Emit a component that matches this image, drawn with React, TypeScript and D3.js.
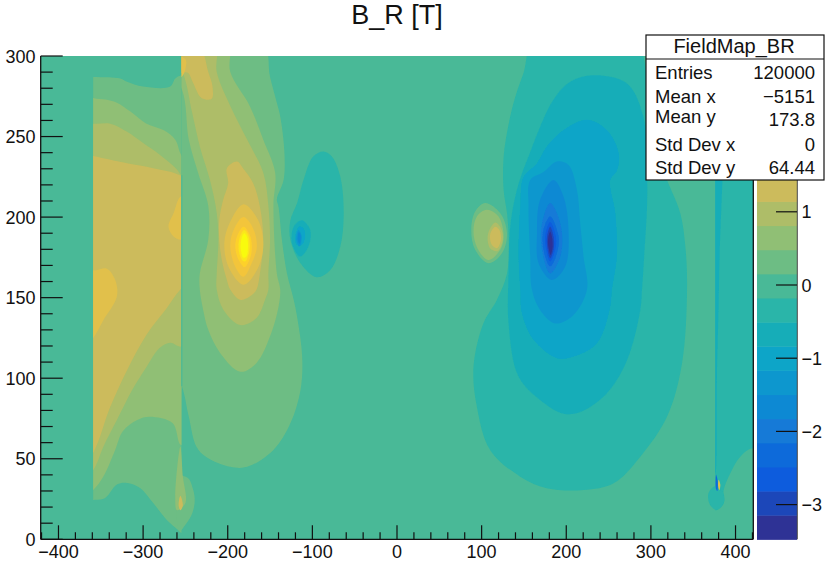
import React from "react";
import * as d3 from "d3";

type P = [number, number];

// ROOT kBird palette stops
const paletteStops = [0, 0.125, 0.25, 0.375, 0.5, 0.625, 0.75, 0.875, 1];
const paletteRed = [0.2082, 0.0592, 0.078, 0.0232, 0.1802, 0.5301, 0.8186, 0.9956, 0.9764];
const paletteGreen = [0.1664, 0.3599, 0.5041, 0.6419, 0.7178, 0.7492, 0.7328, 0.7862, 0.9832];
const paletteBlue = [0.5293, 0.8684, 0.8385, 0.7914, 0.6425, 0.4662, 0.3499, 0.1968, 0.0539];
const bandCount = 20;
const zMin = -3.475;
const zMax = 3.12;
const backgroundBand = 10;

const xTicksMajor = [-400, -300, -200, -100, 0, 100, 200, 300, 400];
const yTicksMajor = [0, 50, 100, 150, 200, 250, 300];
const zTicksMajor = [1, 0, -1, -2, -3];

const title = "B_R [T]";
const statsTitle = "FieldMap_BR";
const statsNames = ["Entries", "Mean x", "Mean y", "Std Dev x", "Std Dev y"];
const statsValues = ["120000", "\u22125151", "173.8", "0", "64.44"];

// Contour outlines in data units (x, y).
const blockB11: P[] = [[-400,287],[-359,287],[-327,286],[-319,284],[-300,281],[-268,281],[-262,286],[-255,288],[-230,290],[-230,0],[-255,4],[-259,6],[-272,12],[-288,22.5],[-304,32],[-319,35],[-331,34],[-345,25.6],[-359,24.4],[-400,24]];
const tailB11: P[] = [[-257,39],[-247,38],[-241,31],[-239,24],[-242,16],[-250,9],[-257,5]];
const blockB12: P[] = [[-385,280],[-359,274],[-345,273],[-331,271],[-315,265.5],[-296,258],[-276,254],[-262,248],[-255,238.6],[-235,225],[-235,70],[-255,58.6],[-265,72],[-292,76],[-307,74],[-324,67],[-333,55.5],[-347,39],[-359,30.6],[-385,20]];
const tailB12: P[] = [[-256,57.5],[-262,26.5],[-260,18],[-250,22.5],[-253,39]];
const tailB14: P[] = [[-256,27],[-258,21],[-256,18],[-253,21]];
const blockB13: P[] = [[-385,262],[-359,258],[-339,258],[-319,253],[-300,246],[-280,238.6],[-262,230.6],[-255,226],[-235,215],[-235,125],[-255,119.6],[-268,122],[-280,119],[-296,107],[-313,92.7],[-331,74],[-347,57.5],[-359,43],[-385,30]];
const blockB14: P[] = [[-385,240],[-359,238],[-347,236.6],[-319,233.5],[-288,230.4],[-255,225.6],[-235,215],[-235,165],[-256,155],[-272,143.6],[-296,127],[-319,105],[-339,82],[-359,53.6],[-385,35]];
const blockB15a: P[] = [[-385,175],[-359,167],[-343,168],[-333,161],[-331,150.7],[-347,136],[-359,125],[-385,110]];
const blockB15b: P[] = [[-255,213],[-264,202.4],[-270,194],[-264,188],[-255,186],[-240,190],[-240,210]];

const lobeB11: P[] = [[-280,320],[-160,310],[-150,287],[-142,271],[-138,262.6],[-133,240],[-134,223],[-142,211],[-140,206.5],[-136,186],[-130,165],[-122,148.6],[-118,138],[-112,113],[-114,92.7],[-126,72],[-146,55.5],[-177,45],[-197,45],[-225,51],[-237,57.5],[-246,76],[-254,95],[-280,130]];
const lobeB12: P[] = [[-280,320],[-200,310],[-197,290],[-174,269],[-158,248],[-144,227.5],[-146,207],[-142,165],[-138,155],[-140,144.4],[-150,126],[-166,109.5],[-185,104],[-209,115.7],[-223,130],[-229,142.4],[-233,155],[-233,165],[-223,186],[-223,207],[-235,227.5],[-246,248],[-254,279],[-280,300]];
const lobeB13: P[] = [[-275,310],[-215,310],[-213,290],[-197,269],[-177,248],[-158,227.5],[-152,207],[-150,186],[-152,165],[-152,155],[-156,148.6],[-166,137.4],[-185,133],[-205,142.4],[-213,155],[-213,165],[-211,186],[-213,202.6],[-221,223],[-233,243.8],[-242,264.7],[-253,289.6]];
const topB14: P[] = [[-270,310],[-233,305],[-223,290],[-218,281],[-219,273.4],[-231,274],[-241,283.4],[-247,289.6],[-254,289.6],[-270,285]];
const topB15: P[] = [[-262,300],[-250,298],[-250,292],[-255,287],[-262,290]];
const wallStrip: P[] = [[-254.9,226],[-253.6,226],[-253.6,95],[-254.9,95]];

const peakB14: P[] = [[-189,234.5],[-182,230.4],[-170,221],[-162,206.5],[-158,186],[-162,165],[-166,155],[-171.5,151.6],[-185,148.6],[-197,155],[-201,161],[-207,173.4],[-210,186],[-210,198],[-205.4,210.7],[-199.5,221],[-201,230.4]];
const peakB15: P[] = [[-181.4,208],[-164,198],[-158,181.7],[-165.6,167],[-181.4,158],[-199,169],[-204,184],[-198,196]];
const peakB16: P[] = [[-181.4,200],[-170,193],[-165.6,181.7],[-171.5,171.6],[-181.4,163],[-191,169],[-197,181.7],[-193,192]];
const peakB17: P[] = [[-181.4,194],[-174,189],[-171.5,181.7],[-173.5,174.7],[-180,169],[-187,173.4],[-191,181],[-189,188]];
const peakB18: P[] = [[-180.6,192],[-176,189],[-174,182.8],[-175.5,176.6],[-179.4,172.4],[-183,173.4],[-187,179.6],[-186,187]];
const peakB19: P[] = [[-180.6,190],[-177.4,188],[-176,181.7],[-178,175.5],[-181.4,174.7],[-184.5,179.6],[-184,186]];

const dipB9: P[] = [[-87,240.7],[-77,237.6],[-67,225],[-63,202.4],[-67,181.7],[-79,167],[-95,162.7],[-114,171.4],[-126,186],[-126,198],[-118,208.7],[-110.5,223],[-99,237.6]];
const dipB8: P[] = [[-112.4,198],[-102.6,192],[-104.6,181.7],[-114.4,175.5],[-124,183.8],[-122,194]];
const dipB7: P[] = [[-115.6,194],[-110.5,193],[-108.5,188],[-112.4,182.8],[-118.3,182.8],[-120.3,188]];
const dipB6: P[] = [[-116.4,192],[-112.4,188],[-115.2,181.7],[-119,186]];
const dipB5: P[] = [[-116,190.8],[-113.8,188.4],[-115,183.4],[-117.3,186]];

const bumpB11: P[] = [[104,208.7],[122,202.4],[130,190],[124,177.6],[108,171.4],[92.4,179.7],[87.7,192],[92.4,203.4]];
const bumpB12: P[] = [[106,204.5],[120,200.3],[126,188],[122,179.7],[108,173.4],[95,180.7],[90.4,191],[94.4,200.3]];
const bumpB13: P[] = [[116,196.6],[123,193],[125,186],[118.8,179],[110,180.7],[107.4,189]];
const bumpB14: P[] = [[116,194],[121,192],[122.8,186],[118,180.7],[112,182.8],[110,189]];

const wellB9: P[] = [[163,310],[149.5,289.4],[140,275],[132,258],[126,237.6],[126,217],[130,202.4],[132,186],[130,165],[118,148.6],[102,134],[90.4,107],[94.4,82.3],[110,55.5],[145.6,38.9],[177,31.7],[220.4,30.6],[256,34.8],[287.5,51.3],[319,76],[336.7,109],[342.7,155],[340.7,181.7],[334.7,202.4],[319,223],[300,250],[280,310]];
const wellB8: P[] = [[232,288],[204.7,284],[185,273],[169,256],[155.4,237.6],[147.6,227],[139.7,212.7],[133.8,194],[131.8,165],[131.8,134],[143.6,101],[169,86.5],[196.8,78],[216.5,79],[248,90.7],[271.7,111],[287.5,142.4],[289.5,155],[292,175.5],[295.4,206.5],[295.4,227],[291,262.5],[271.7,283]];
const wellB7: P[] = [[224.5,260.4],[196.8,254],[177,243.8],[165.4,233.5],[149.5,225],[145.6,206.5],[143.6,175.5],[145.6,155],[147.6,140.3],[161.3,123.8],[189,112.4],[208.6,113.4],[236.3,121.7],[252,144.4],[254,155],[259.8,175.5],[258,202.4],[252,223],[260,229],[262,239.7],[248,254]];
const wellB6: P[] = [[189,234.5],[173,228],[157.4,223],[155.4,206.5],[157.4,175.5],[159.4,155],[169,142.4],[187,134],[208.6,139.3],[224.5,155],[220.4,175.5],[216.5,196],[212.6,217],[202.7,232.4]];
const wellB5: P[] = [[185,223],[196.8,212.7],[202.7,192],[198.8,169.3],[183,161],[167.3,171.4],[165.4,190],[169,210.7]];
const wellB4: P[] = [[181,208.7],[189,202.4],[195,190],[193,175.5],[181,165],[171.3,179.7],[171.3,196]];
const wellB3: P[] = [[181,200.3],[191,188],[189,177.6],[181,169.3],[173,179.7],[173,192]];
const wellB2: P[] = [[181,197],[187.8,188],[187,179.7],[181,172.4],[175.5,181.7],[175.5,190]];
const wellB1: P[] = [[181,194],[185,188],[185,179.7],[181,174.5],[178,179.7],[177.3,188]];
const wellB0: P[] = [[181,191],[183.4,187],[183.8,180.7],[181.4,176.5],[179.5,179.7],[178.4,185.9]];

const stripB9: P[] = [[350,320],[440,320],[440,50],[420.6,56.5],[405.6,51.3],[393.8,41],[386,30.6],[386,22.4],[378,18.2],[376,18],[350,20]];
const stripBlobB9: P[] = [[376,33],[386,28],[386,22.4],[378,18.2],[370,21.3],[368,28.6]];
const stripB8: P[] = [[372,310],[380.5,310],[380.5,160],[378,100],[377.5,50],[376.3,40],[372,100]];
const stripDark: P[] = [[377,40],[379,36],[378.5,30],[377,31]];
const stripLight: P[] = [[380,37],[382,34],[381,30.5],[379.5,33]];

type Layer = { band: number; pts: P[]; clip?: "block" | "right" | "strip"; linear?: boolean };

const layers: Layer[] = [
  { band: 11, pts: blockB11, clip: "block" },
  { band: 11, pts: tailB11 },
  { band: 12, pts: blockB12, clip: "block" },
  { band: 12, pts: tailB12 },
  { band: 14, pts: tailB14 },
  { band: 13, pts: blockB13, clip: "block" },
  { band: 14, pts: blockB14, clip: "block" },
  { band: 15, pts: blockB15a, clip: "block" },
  { band: 15, pts: blockB15b, clip: "block" },
  { band: 11, pts: lobeB11, clip: "right" },
  { band: 12, pts: lobeB12, clip: "right" },
  { band: 13, pts: lobeB13, clip: "right" },
  { band: 14, pts: topB14, clip: "right" },
  { band: 15, pts: topB15, clip: "right" },
  { band: 10, pts: wallStrip, linear: true },
  { band: 14, pts: peakB14 },
  { band: 15, pts: peakB15 },
  { band: 16, pts: peakB16 },
  { band: 17, pts: peakB17 },
  { band: 18, pts: peakB18 },
  { band: 19, pts: peakB19 },
  { band: 9, pts: dipB9 },
  { band: 8, pts: dipB8 },
  { band: 7, pts: dipB7 },
  { band: 6, pts: dipB6 },
  { band: 5, pts: dipB5 },
  { band: 11, pts: bumpB11 },
  { band: 12, pts: bumpB12 },
  { band: 13, pts: bumpB13 },
  { band: 14, pts: bumpB14 },
  { band: 9, pts: wellB9 },
  { band: 8, pts: wellB8 },
  { band: 7, pts: wellB7 },
  { band: 6, pts: wellB6 },
  { band: 5, pts: wellB5 },
  { band: 4, pts: wellB4 },
  { band: 3, pts: wellB3 },
  { band: 2, pts: wellB2 },
  { band: 1, pts: wellB1 },
  { band: 0, pts: wellB0 },
  { band: 9, pts: stripB9, clip: "strip" },
  { band: 9, pts: stripBlobB9 },
  { band: 8, pts: stripB8, clip: "strip" },
  { band: 3, pts: stripDark },
  { band: 15, pts: stripLight },
];

const FONT = "'Liberation Sans', Arial, Helvetica, sans-serif";
const INK = "#111";

export default function App() {
  const x = d3.scaleLinear().domain([-421, 421]).range([40.7, 753.3]);
  const y = d3.scaleLinear().domain([0, 300]).range([539.3, 56]);
  const zv = d3.scaleLinear().domain([0, 1]).range([285, 211.8]);

  const channel = (arr: number[]) => d3.scaleLinear().domain(paletteStops).range(arr);
  const r = channel(paletteRed);
  const g = channel(paletteGreen);
  const b = channel(paletteBlue);
  const bandColor = (i: number) => {
    const t = (i + 0.4) / (bandCount - 1 + 0.4);
    return d3.rgb(r(t) * 255, g(t) * 255, b(t) * 255).formatHex();
  };

  const smooth = d3.line<P>().x((d) => x(d[0])).y((d) => y(d[1])).curve(d3.curveCatmullRomClosed.alpha(0.5));
  const straight = d3.line<P>().x((d) => x(d[0])).y((d) => y(d[1])).curve(d3.curveLinearClosed);

  const zStep = (zMax - zMin) / bandCount;
  const xMinor = d3.range(-420, 421, 20);
  const yMinor = d3.range(0, 301, 10);

  const statsNameY = [79, 103, 123, 151, 174];
  const statsValueY = [79, 103, 126, 151, 174];

  return (
    <svg width={828} height={562} style={{ position: "absolute", left: 0, top: 0, display: "block" }} fontFamily={FONT}>
      <defs>
        <clipPath id="plot">
          <rect x={x(-421)} y={y(300)} width={x(421) - x(-421)} height={y(0) - y(300)} />
        </clipPath>
        <clipPath id="block">
          <rect x={x(-359)} y={y(300)} width={x(-254.7) - x(-359)} height={y(0) - y(300)} />
        </clipPath>
        <clipPath id="right">
          <rect x={x(-254.7)} y={y(300)} width={x(100) - x(-254.7)} height={y(0) - y(300)} />
        </clipPath>
        <clipPath id="strip">
          <rect x={x(376)} y={y(300)} width={x(421) - x(376)} height={y(0) - y(300)} />
        </clipPath>
        <filter id="soft" x="-2%" y="-2%" width="104%" height="104%">
          <feGaussianBlur stdDeviation={0.6} />
        </filter>
      </defs>

      <text x={397} y={24} fontSize={27} textAnchor="middle" fill={INK}>{title}</text>

      <g clipPath="url(#plot)">
        <g filter="url(#soft)">
          <rect x={x(-421) - 3} y={y(300) - 3} width={x(421) - x(-421) + 6} height={y(0) - y(300) + 6} fill={bandColor(backgroundBand)} />
          {layers.map((l, i) => {
            const path = (l.linear ? straight : smooth)(l.pts) as string;
            const el = <path d={path} fill={bandColor(l.band)} />;
            return l.clip ? (
              <g key={i} clipPath={`url(#${l.clip})`}>{el}</g>
            ) : (
              <g key={i}>{el}</g>
            );
          })}
        </g>
      </g>

      {/* palette */}
      <g filter="url(#soft)">
        {d3.range(bandCount).map((i) => (
          <rect
            key={i}
            x={757}
            y={zv(zMin + (i + 1) * zStep)}
            width={40}
            height={zv(zMin + i * zStep) - zv(zMin + (i + 1) * zStep) + 0.5}
            fill={bandColor(i)}
          />
        ))}
      </g>
      <line x1={797.3} x2={797.3} y1={56} y2={539.3} stroke="#444" strokeWidth={1} />
      {zTicksMajor.map((t) => (
        <g key={t}>
          <line x1={776} x2={797} y1={zv(t)} y2={zv(t)} stroke={INK} strokeWidth={1.2} />
          <text x={801.5} y={zv(t) + 6.5} fontSize={18} fill={INK}>
            {t < 0 ? `\u2212${-t}` : t}
          </text>
        </g>
      ))}

      {/* frame and axes */}
      <line x1={x(-421)} x2={x(-421)} y1={y(300)} y2={y(0)} stroke={INK} strokeWidth={1.3} />
      <line x1={x(-421)} x2={x(421)} y1={y(0)} y2={y(0)} stroke={INK} strokeWidth={1.3} />
      <line x1={x(421)} x2={x(421)} y1={y(300)} y2={y(0)} stroke={INK} strokeWidth={1.3} />
      {xMinor.map((t) => (
        <line key={t} x1={x(t)} x2={x(t)} y1={y(0)} y2={y(0) - (t % 100 === 0 ? 14 : 7)} stroke={INK} strokeWidth={1.2} />
      ))}
      {yMinor.map((t) => (
        <line key={t} x1={x(-421)} x2={x(-421) + (t % 50 === 0 ? 22 : 12)} y1={y(t)} y2={y(t)} stroke={INK} strokeWidth={1.2} />
      ))}
      {xTicksMajor.map((t) => (
        <text key={t} x={x(t)} y={558} fontSize={18} textAnchor="middle" fill={INK}>
          {t < 0 ? `\u2212${-t}` : t}
        </text>
      ))}
      {yTicksMajor.map((t) => (
        <text key={t} x={35.5} y={y(t) + 6.5} fontSize={18} textAnchor="end" fill={INK}>
          {t}
        </text>
      ))}

      {/* stats box */}
      <rect x={646} y={35} width={178} height={145} fill="#fff" stroke={INK} strokeWidth={1.2} />
      <line x1={646} x2={824} y1={59} y2={59} stroke={INK} strokeWidth={1} />
      <text x={734} y={53} fontSize={20} textAnchor="middle" fill={INK}>{statsTitle}</text>
      {statsNames.map((n, i) => (
        <text key={n} x={655} y={statsNameY[i]} fontSize={18.5} fill={INK}>{n}</text>
      ))}
      {statsValues.map((v, i) => (
        <text key={i} x={815} y={statsValueY[i]} fontSize={18.5} textAnchor="end" fill={INK}>{v}</text>
      ))}
    </svg>
  );
}
